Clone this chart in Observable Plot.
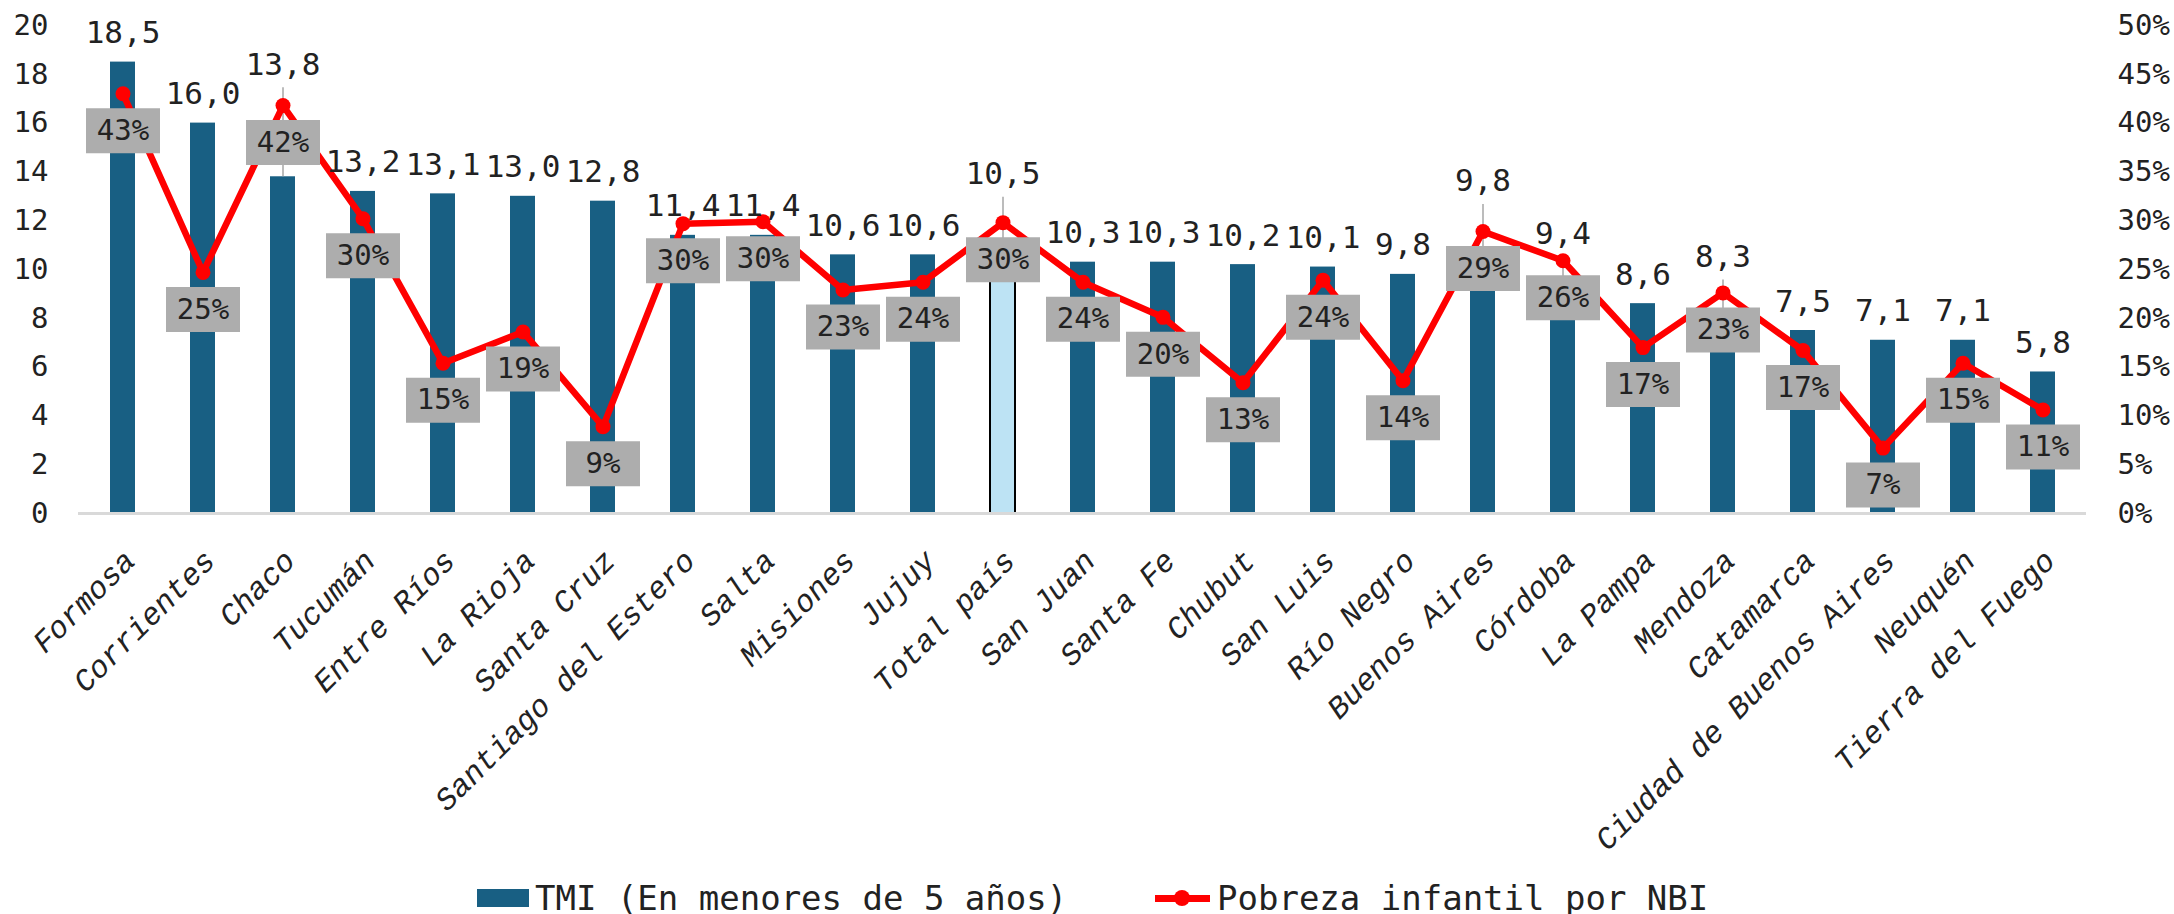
<!DOCTYPE html>
<html>
<head>
<meta charset="utf-8">
<script src="https://cdn.jsdelivr.net/npm/d3@7"></script>
<script src="https://cdn.jsdelivr.net/npm/@observablehq/plot@0.6"></script>
<style>
  body { margin: 0; background: #fff; }
  #chart svg { display: block; }
  #legend { position: relative; width: 2174px; height: 44px; font-family: "DejaVu Sans Mono", monospace; font-size: 34px; color: #222; }
  #legend .sw { position: absolute; }
  #legend .lbl { position: absolute; top: 0; height: 56px; line-height: 56px; white-space: pre; }
</style>
</head>
<body>
<div id="chart"></div>
<div id="legend">
  <div class="sw" style="left:477px;top:19px;width:52px;height:18px;background:#185F83"></div>
  <div class="lbl" style="left:535px">TMI (En menores de 5 años)</div>
  <div class="sw" style="left:1155px;top:25px;width:55px;height:7px;background:#FF0000"></div>
  <div class="sw" style="left:1174px;top:20px;width:16px;height:16px;border-radius:50%;background:#FF0000"></div>
  <div class="lbl" style="left:1217px">Pobreza infantil por NBI</div>
</div>
<script>
// ---- data ----
const categories = ["Formosa", "Corrientes", "Chaco", "Tucumán", "Entre Ríos", "La Rioja", "Santa Cruz",
  "Santiago del Estero", "Salta", "Misiones", "Jujuy", "Total país", "San Juan", "Santa Fe", "Chubut",
  "San Luis", "Río Negro", "Buenos Aires", "Córdoba", "La Pampa", "Mendoza", "Catamarca",
  "Ciudad de Buenos Aires", "Neuquén", "Tierra del Fuego"];
const tmi = [18.5, 16.0, 13.8, 13.2, 13.1, 13.0, 12.8, 11.4, 11.4, 10.6, 10.6, 10.5, 10.3, 10.3, 10.2,
  10.1, 9.8, 9.8, 9.4, 8.6, 8.3, 7.5, 7.1, 7.1, 5.8];
const pobreza = [43.0, 24.7, 41.8, 30.2, 15.4, 18.6, 8.9, 29.7, 29.9, 22.9, 23.7, 29.8, 23.7, 20.1, 13.4,
  23.9, 13.6, 28.9, 25.9, 17.0, 22.6, 16.7, 6.7, 15.4, 10.6];
const yTicks = [0, 2, 4, 6, 8, 10, 12, 14, 16, 18, 20];

// ---- layout (pixels) ----
const W = 2174, H = 870, TOP = 25, BASE = 513;
const pxPerUnit = (BASE - TOP) / 20;
const labelLift = {"Chaco": 83, "Total país": 54, "Buenos Aires": 64, "Córdoba": 21, "Mendoza": 25};

const data = categories.map((c, i) => ({cat: c, tmi: tmi[i], pct: pobreza[i]}));
const lifted = data.filter(d => labelLift[d.cat]);
const boxSymbol = {draw(ctx) { ctx.rect(-37, -22.5, 74, 45); }};
const py = d => d.pct * 0.4; // 50% <-> 20 on the shared vertical scale

const chart = Plot.plot({
  width: W, height: H,
  marginTop: TOP, marginBottom: H - BASE, marginLeft: 78, marginRight: 88,
  x: {domain: categories, paddingInner: 0.69, paddingOuter: 0.345, label: null},
  y: {domain: [0, 20], label: null},
  style: {fontFamily: "DejaVu Sans Mono", color: "#222", background: "#fff"},
  marks: [
    Plot.axisY({anchor: "left", ticks: yTicks, tickSize: 0, tickPadding: 30, fontSize: 29, label: null}),
    Plot.axisY({anchor: "right", ticks: yTicks, tickFormat: d => `${Math.round(d * 2.5)}%`, tickSize: 0, tickPadding: 31, fontSize: 29, label: null}),
    Plot.axisX({tickRotate: -45, tickSize: 0, tickPadding: 42, dx: 7, fontSize: 31, fontFamily: "Liberation Mono", fontStyle: "italic", label: null}),
    Plot.barY(data, {filter: d => d.cat !== "Total país", x: "cat", y: "tmi", fill: "#185F83"}),
    Plot.barY(data, {filter: d => d.cat === "Total país", x: "cat", y: "tmi", fill: "#BDE3F4", stroke: "#000", strokeWidth: 2}),
    Plot.ruleY([0], {stroke: "#D9D9D9", strokeWidth: 3}),
    Plot.ruleX(lifted, {x: "cat", y1: "tmi", y2: d => d.tmi + (labelLift[d.cat] + 6) / pxPerUnit, stroke: "#A6A6A6", strokeWidth: 1.5}),
    Plot.line(data, {x: "cat", y: py, stroke: "#FF0000", strokeWidth: 6.5}),
    Plot.dot(data, {x: "cat", y: py, r: 7.5, fill: "#FF0000"}),
    Plot.dot(data, {x: "cat", y: py, symbol: boxSymbol, fill: "#ADADAD", dy: 37}),
    Plot.text(data, {x: "cat", y: py, text: d => Math.round(d.pct) + "%", dy: 37, fontSize: 29, fill: "#222"}),
    Plot.text(data, {x: "cat", y: d => d.tmi + (labelLift[d.cat] || 0) / pxPerUnit,
      text: d => d.tmi.toFixed(1).replace(".", ","), lineAnchor: "bottom", dy: -19, fontSize: 31, fill: "#222"})
  ]
});
document.getElementById("chart").appendChild(chart);
</script>
</body>
</html>
